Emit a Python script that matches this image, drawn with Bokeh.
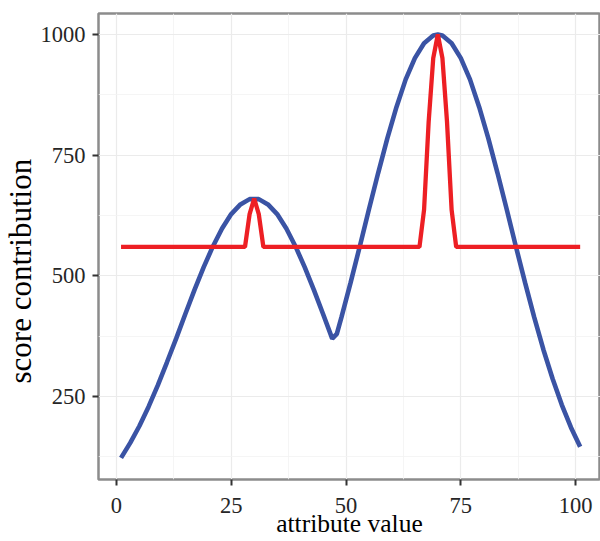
from bokeh.plotting import figure
from bokeh.models import FixedTicker, Range1d, Title
from bokeh.embed import file_html
from bokeh.resources import INLINE

# blue curve: attribute value -> score contribution
blue_x = [1, 3, 5, 7, 9, 11, 13, 15, 17, 19, 21, 23, 25, 27, 29, 31, 33, 35, 37, 39,
          41, 43, 45, 47, 48, 49, 51, 53, 55, 57, 59, 61, 63, 65, 67, 69, 70, 71, 73, 75,
          77, 79, 81, 83, 85, 87, 89, 91, 93, 95, 97, 99, 101]
blue_y = [123, 154, 189, 229, 273, 321, 370, 421, 471, 518, 561, 598, 628, 648, 659, 659,
          648, 628, 598, 561, 518, 471, 421, 370, 380, 414, 486, 561, 638, 713, 785, 850,
          907, 951, 982, 998, 1000, 998, 982, 951, 907, 850, 785, 713, 638, 561, 486, 414,
          347, 287, 233, 186, 146]

# red curve
red_x = [1, 28, 29, 30, 31, 32, 66, 67, 68, 69, 70, 71, 72, 73, 74, 101]
red_y = [560, 560, 628, 660, 628, 560, 560, 637, 819, 951, 1000, 951, 819, 637, 560, 560]

x_ticks = [0, 25, 50, 75, 100]
x_minor = [12.5, 37.5, 62.5, 87.5]
y_ticks = [250, 500, 750, 1000]
y_minor = [125, 375, 625, 875]

x_title = "attribute value"
y_title = "score contribution"

FONT = "Liberation Serif"

p = figure(width=600, height=541, output_backend="svg", toolbar_location=None,
           x_range=Range1d(-3.91, 105.43), y_range=Range1d(78.2, 1043.5),
           min_border_left=97, min_border_right=0, min_border_top=13, min_border_bottom=62)

p.background_fill_color = "white"
p.border_fill_color = "white"
p.outline_line_color = "#8C8C8C"
p.outline_line_width = 2.5

p.line(blue_x, blue_y, line_color="#3A53A4", line_width=4.6)
p.line(red_x, red_y, line_color="#ED1F24", line_width=4.3)

p.xaxis.ticker = FixedTicker(ticks=x_ticks, minor_ticks=x_minor)
p.yaxis.ticker = FixedTicker(ticks=y_ticks, minor_ticks=y_minor)

for g in (p.xgrid, p.ygrid):
    g.grid_line_color = "#EBEBEB"
    g.grid_line_width = 1.2
    g.minor_grid_line_color = "#F3F3F3"
    g.minor_grid_line_width = 0.8

for ax in (p.xaxis, p.yaxis):
    ax.axis_line_color = None
    ax.minor_tick_line_color = None
    ax.major_tick_line_color = "#333333"
    ax.major_tick_line_width = 2
    ax.major_tick_out = 6
    ax.major_tick_in = 0
    ax.major_label_text_font = FONT
    ax.major_label_text_font_size = "22.5px"
    ax.major_label_text_color = "#262626"
    ax.axis_label_text_font = FONT
    ax.axis_label_text_font_style = "normal"
    ax.axis_label_text_color = "black"

p.xaxis.major_label_standoff = 12
p.yaxis.major_label_standoff = 7

p.xaxis.axis_label = x_title
p.xaxis.axis_label_text_font_size = "25.5px"
p.xaxis.axis_label_standoff = -7

p.add_layout(Title(text=y_title, align="left", offset=96, standoff=0,
                   text_font=FONT, text_font_size="31px", text_font_style="normal",
                   text_color="black"), "left")

open("out.html", "w").write(file_html(p, INLINE))
